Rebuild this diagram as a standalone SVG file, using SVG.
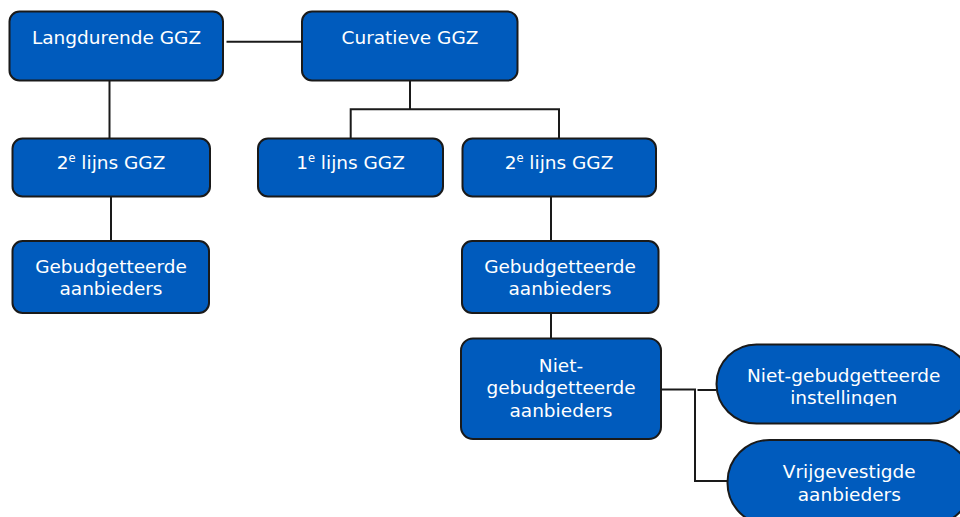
<svg xmlns="http://www.w3.org/2000/svg" width="960" height="517" viewBox="0 0 960 517">
<style>
.box{fill:#005bbd;stroke:#1a1a1a;stroke-width:2}
.t{font-family:"DejaVu Sans",Verdana,sans-serif;font-size:18.5px;fill:#ffffff;text-anchor:middle}
.sup{font-size:11.5px}
.c{fill:none;stroke:#1a1a1a;stroke-width:2}
</style>
<defs>
<clipPath id="clipInst"><rect x="700" y="340" width="280" height="66"/></clipPath>
</defs>
<g id="connectors">
<line class="c" x1="226.5" y1="41.7" x2="302" y2="41.7"/>
<line class="c" x1="109.5" y1="80.5" x2="109.5" y2="138.5"/>
<line class="c" x1="111" y1="196.5" x2="111" y2="241"/>
<polyline class="c" points="410,80.5 410,109.3"/>
<polyline class="c" points="350.7,138.5 350.7,109.3 559,109.3 559,138.5"/>
<line class="c" x1="551" y1="196.5" x2="551" y2="241"/>
<line class="c" x1="551" y1="313" x2="551" y2="338"/>
<polyline class="c" points="661,389.5 695,389.5 695,481 728,481"/>
<line class="c" x1="697.5" y1="390" x2="716.5" y2="390"/>
</g>
<g id="langdurende">
<rect class="box" x="9.5" y="11.5" width="213.5" height="69" rx="10"/>
<text class="t" x="116.5" y="43.5">Langdurende GGZ</text>
</g>
<g id="curatieve">
<rect class="box" x="302" y="11.5" width="215.5" height="69" rx="10"/>
<text class="t" x="410" y="43.5">Curatieve GGZ</text>
</g>
<g id="lijn2-links">
<rect class="box" x="12.5" y="138.5" width="197.5" height="58" rx="10"/>
<text class="t" x="111" y="169">2<tspan class="sup" dy="-7">e</tspan><tspan dy="7"> lijns GGZ</tspan></text>
</g>
<g id="lijn1">
<rect class="box" x="258" y="138.5" width="185" height="58" rx="10"/>
<text class="t" x="350.5" y="169">1<tspan class="sup" dy="-7">e</tspan><tspan dy="7"> lijns GGZ</tspan></text>
</g>
<g id="lijn2-rechts">
<rect class="box" x="462.5" y="138.5" width="193.5" height="58" rx="10"/>
<text class="t" x="559" y="169">2<tspan class="sup" dy="-7">e</tspan><tspan dy="7"> lijns GGZ</tspan></text>
</g>
<g id="gebudgetteerd-links">
<rect class="box" x="12.5" y="241" width="196.5" height="72" rx="10"/>
<text class="t" x="111" y="272.5">Gebudgetteerde</text>
<text class="t" x="111" y="295">aanbieders</text>
</g>
<g id="gebudgetteerd-rechts">
<rect class="box" x="462" y="241" width="196.5" height="72" rx="10"/>
<text class="t" x="560" y="272.5">Gebudgetteerde</text>
<text class="t" x="560" y="294.5">aanbieders</text>
</g>
<g id="niet-gebudgetteerd">
<rect class="box" x="461" y="338.5" width="200" height="100.5" rx="12"/>
<text class="t" x="561" y="371.5">Niet-</text>
<text class="t" x="561" y="394">gebudgetteerde</text>
<text class="t" x="561" y="416.5">aanbieders</text>
</g>
<g id="instellingen">
<rect class="box" x="716.5" y="344.5" width="254" height="79" rx="40" ry="39.5"/>
<g clip-path="url(#clipInst)">
<text class="t" x="843.7" y="381.5">Niet-gebudgetteerde</text>
<text class="t" x="843.7" y="404">instellingen</text>
</g>
</g>
<g id="vrijgevestigd">
<rect class="box" x="727.5" y="440" width="244" height="85" rx="42" ry="42"/>
<text class="t" x="849.3" y="478.3">Vrijgevestigde</text>
<text class="t" x="849.3" y="500.7">aanbieders</text>
</g>
</svg>
